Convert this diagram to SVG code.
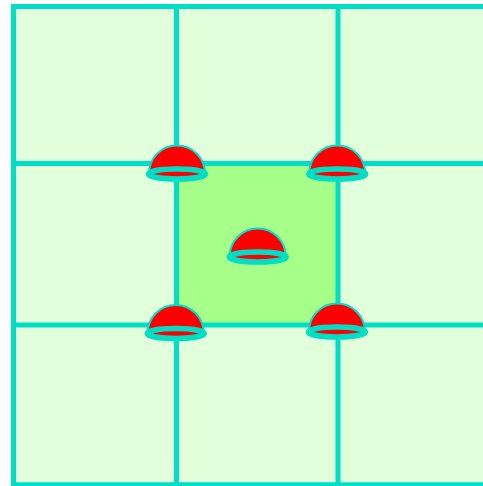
<svg xmlns="http://www.w3.org/2000/svg" width="483" height="486" viewBox="0 0 483 486">
<style>
.cell{fill:#e1ffdb}
.mid{fill:#a6ff88}
.grid{fill:none;stroke:#00dfc6;stroke-width:5}
.dome{fill:#f00;stroke:#00dfc6;stroke-width:2}
.ring{fill:#f00;stroke:#00dfc6;stroke-width:5.500}
</style>
<defs>
<g id="bell">
<path class="dome" d="M-28 0A28 28 0 0 1 28 0Z"/>
<ellipse class="ring" cx="0" cy="0.500" rx="28.500" ry="5"/>
</g>
</defs>
<rect width="483" height="486" fill="#fff"/>
<rect class="cell" x="13.500" y="6.500" width="469.500" height="478"/>
<rect class="mid" x="176.500" y="163.500" width="161.500" height="161.500"/>
<g id="grid">
<path class="grid" d="M483 6.500H13.500V484.800H483M176.500 6.500V484.800M338 6.500V484.800M13.500 163.500H483M13.500 325H483"/>
</g>
<g id="dome-top-left"><use href="#bell" x="177" y="173.500"/></g>
<g id="dome-top-right"><use href="#bell" x="337.200" y="173.500"/></g>
<g id="dome-center"><use href="#bell" x="257.700" y="256.500"/></g>
<g id="dome-bottom-left"><use href="#bell" x="175.700" y="333"/></g>
<g id="dome-bottom-right"><use href="#bell" x="336.900" y="331.500"/></g>
</svg>
